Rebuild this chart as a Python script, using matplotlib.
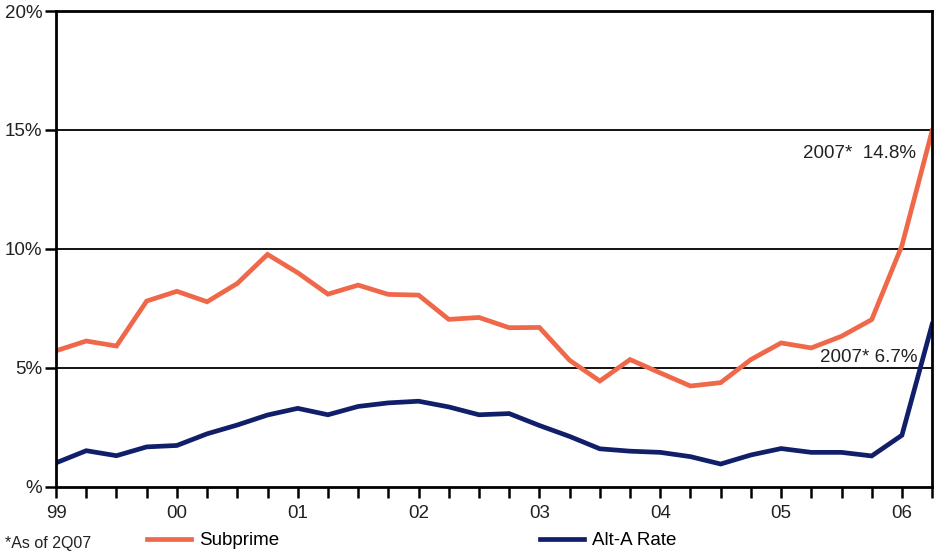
import matplotlib
matplotlib.use("Agg")
import matplotlib.pyplot as plt

plt.rcParams['font.family'] = ['Liberation Sans', 'DejaVu Sans']

# quarterly data, 1999 Q1 .. 2007 Q2
subprime = [5.72, 6.13, 5.92, 7.81, 8.22, 7.78, 8.55, 9.77,
            9.0, 8.10, 8.48, 8.09, 8.06, 7.04, 7.12, 6.69,
            6.70, 5.32, 4.45, 5.35, 4.79, 4.24, 4.38, 5.35,
            6.05, 5.84, 6.33, 7.03, 10.14, 14.97]
alt_a = [1.01, 1.52, 1.31, 1.68, 1.74, 2.23, 2.60, 3.02,
         3.30, 3.03, 3.38, 3.53, 3.60, 3.36, 3.03, 3.08,
         2.58, 2.12, 1.60, 1.50, 1.45, 1.27, 0.96, 1.34,
         1.61, 1.45, 1.45, 1.30, 2.17, 6.83]
year_labels = ['99', '00', '01', '02', '03', '04', '05', '06']
y_ticks = [0, 5, 10, 15, 20]
y_labels = ['%', '5%', '10%', '15%', '20%']

orange = '#F0684A'
navy = '#111F6B'
fs = 13.5

fig = plt.figure(figsize=(9.34, 5.52), dpi=100)
ax = fig.add_axes([0.06, 0.118, 0.938, 0.862])

x = list(range(len(subprime)))
ax.plot(x, subprime, color=orange, lw=3.4, solid_joinstyle='miter', label='Subprime')
ax.plot(x, alt_a, color=navy, lw=3.4, solid_joinstyle='miter', label='Alt-A Rate')

ax.set_xlim(0, len(x) - 1)
ax.set_ylim(0, 20)
for v in [5, 10, 15]:
    ax.axhline(v, color='black', lw=1.3, zorder=0)

ax.set_yticks(y_ticks)
ax.set_yticklabels(y_labels)
ax.set_xticks(x, minor=True)
ax.set_xticks(range(0, len(x), 4))
ax.set_xticklabels(year_labels)
ax.tick_params(axis='both', which='both', direction='out', width=1.8,
               length=8, labelsize=fs, colors='black', labelcolor='#222222')
ax.tick_params(axis='x', which='major', pad=5)
ax.tick_params(axis='y', pad=2)
for s in ax.spines.values():
    s.set_linewidth(2)

ax.text(28.45, 14.0, '2007*  14.8%', ha='right', va='center', fontsize=fs, color='#222222')
ax.text(28.5, 5.45, '2007* 6.7%', ha='right', va='center', fontsize=fs, color='#222222')

fig.legend(loc='lower left', bbox_to_anchor=(0.149, -0.009), borderaxespad=0,
           ncol=2, frameon=False, fontsize=fs, handlelength=2.35,
           handletextpad=0.43, columnspacing=13.9)
fig.text(0.005, 0.002, '*As of 2Q07', fontsize=11.5, color='#222222', va='bottom')

fig.savefig('out.png', dpi=100)
